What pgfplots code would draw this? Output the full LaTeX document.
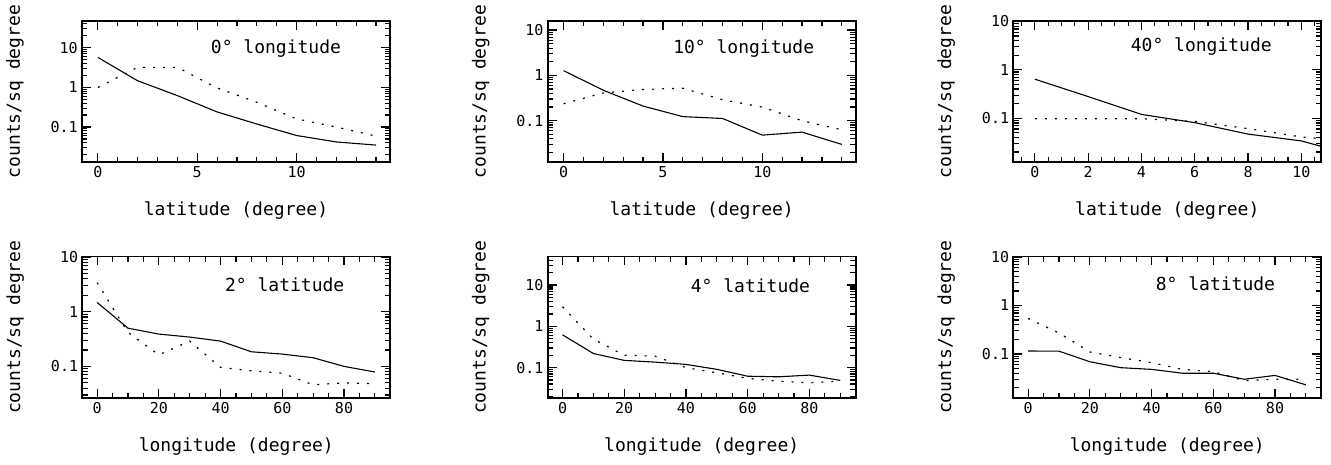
\documentclass[border=0pt]{standalone}
\usepackage{fontspec}
\usepackage{pgfplots}
\pgfplotsset{compat=1.18}
\setmainfont{DejaVu Sans Mono}
\newcommand\labfont{\fontsize{18}{20}\selectfont}
\newcommand\tickfont{\fontsize{15}{17}\selectfont}
\newcommand\xt[1]{\raisebox{-5pt}{\tickfont #1}}
\newcommand\yt[1]{{\tickfont #1}\hspace{4pt}}
\begin{document}
\begin{tikzpicture}
% ---- panel 1
\begin{semilogyaxis}[scale only axis, width=308pt, height=141.5pt, anchor=south west,
    at={(82pt,302.7pt)}, ymin=0.01288, ymax=47.9,
    xmin=-0.8, xmax=14.7, xtick={0,5,10}, xticklabels={\xt{0},\xt{5},\xt{10}},
    minor xtick={1,2,3,4,6,7,8,9,11,12,13,14},
    ytick={0.1,1,10}, yticklabels={\yt{0.1},\yt{1},\yt{10}},
    minor ytick={0.02,0.03,0.04,0.05,0.06,0.07,0.08,0.09,0.2,0.3,0.4,0.5,0.6,0.7,0.8,0.9,2,3,4,5,6,7,8,9,20,30,40},
    line width=1.8pt,
    every tick/.style={black, line width=1.2pt},
    major tick length=9pt, minor tick length=5.5pt,
    xlabel={latitude (degree)}, ylabel={counts/sq degree},
    xlabel style={font=\labfont, at={(axis description cs:0.5,-0.34)}, anchor=center},
    ylabel style={font=\labfont, at={(axis description cs:-0.2175,0.5)}, anchor=center}]
\addplot[black, line width=1.1pt, no marks] table {
0 5.7
2 1.47
4 0.62
6 0.24
8 0.119
10 0.061
12 0.042
14 0.035
};
\addplot[black, line width=1.2pt, no marks, dash pattern=on 2pt off 8pt] table {
0 1.0
2 3.2
4 3.2
6 0.97
8 0.42
10 0.16
12 0.10
14 0.059
};
\node[anchor=west, font=\labfont] at (rel axis cs:0.405,0.807) {0° longitude};
\end{semilogyaxis}
% ---- panel 2
\begin{semilogyaxis}[scale only axis, width=308pt, height=141.5pt, anchor=south west,
    at={(547.7pt,302.7pt)}, ymin=0.01208, ymax=16.03,
    xmin=-0.8, xmax=14.7, xtick={0,5,10}, xticklabels={\xt{0},\xt{5},\xt{10}},
    minor xtick={1,2,3,4,6,7,8,9,11,12,13,14},
    ytick={0.1,1,10}, yticklabels={\yt{0.1},\yt{1},\yt{10}},
    minor ytick={0.02,0.03,0.04,0.05,0.06,0.07,0.08,0.09,0.2,0.3,0.4,0.5,0.6,0.7,0.8,0.9,2,3,4,5,6,7,8,9,20,30,40},
    line width=1.8pt,
    every tick/.style={black, line width=1.2pt},
    major tick length=9pt, minor tick length=5.5pt,
    xlabel={latitude (degree)}, ylabel={counts/sq degree},
    xlabel style={font=\labfont, at={(axis description cs:0.5,-0.34)}, anchor=center},
    ylabel style={font=\labfont, at={(axis description cs:-0.2175,0.5)}, anchor=center}]
\addplot[black, line width=1.1pt, no marks] table {
0 1.27
2 0.47
4 0.21
6 0.123
8 0.112
10 0.048
12 0.056
14 0.03
};
\addplot[black, line width=1.2pt, no marks, dash pattern=on 2pt off 8pt] table {
0 0.237
2 0.41
4 0.49
6 0.52
8 0.29
10 0.20
12 0.10
14 0.063
};
\node[anchor=west, font=\labfont] at (rel axis cs:0.394,0.807) {10° longitude};
\end{semilogyaxis}
% ---- panel 3
\begin{semilogyaxis}[scale only axis, width=308pt, height=141.5pt, anchor=south west,
    at={(1013.3pt,302.7pt)}, ymin=0.0123, ymax=10.3,
    xmin=-0.81, xmax=10.75, xtick={0,2,4,6,8,10},
    xticklabels={\xt{0},\xt{2},\xt{4},\xt{6},\xt{8},\xt{10}},
    minor xtick={-0.5,0.5,1,1.5,2.5,3,3.5,4.5,5,5.5,6.5,7,7.5,8.5,9,9.5,10.5},
    ytick={0.1,1,10}, yticklabels={\yt{0.1},\yt{1},\yt{10}},
    minor ytick={0.02,0.03,0.04,0.05,0.06,0.07,0.08,0.09,0.2,0.3,0.4,0.5,0.6,0.7,0.8,0.9,2,3,4,5,6,7,8,9,20,30,40},
    line width=1.8pt,
    every tick/.style={black, line width=1.2pt},
    major tick length=9pt, minor tick length=5.5pt,
    xlabel={latitude (degree)}, ylabel={counts/sq degree},
    xlabel style={font=\labfont, at={(axis description cs:0.5,-0.34)}, anchor=center},
    ylabel style={font=\labfont, at={(axis description cs:-0.2175,0.5)}, anchor=center}]
\addplot[black, line width=1.1pt, no marks] table {
0 0.64
2 0.28
4 0.12
6 0.081
8 0.047
10 0.034
12 0.017
};
\addplot[black, line width=1.2pt, no marks, dash pattern=on 2pt off 8pt] table {
0 0.098
2 0.098
4 0.098
6 0.086
8 0.061
10 0.041
12 0.033
};
\node[anchor=west, font=\labfont] at (rel axis cs:0.368,0.816) {40° longitude};
\end{semilogyaxis}
% ---- panel 4
\begin{semilogyaxis}[scale only axis, width=308pt, height=141.5pt, anchor=south west,
    at={(82.3pt,67pt)}, ymin=0.02642, ymax=10.24,
    xmin=-4.8, xmax=95, xtick={0,20,40,60,80},
    xticklabels={\xt{0},\xt{20},\xt{40},\xt{60},\xt{80}},
    minor xtick={5,10,15,25,30,35,45,50,55,65,70,75,85,90},
    ytick={0.1,1,10}, yticklabels={\yt{0.1},\yt{1},\yt{10}},
    minor ytick={0.02,0.03,0.04,0.05,0.06,0.07,0.08,0.09,0.2,0.3,0.4,0.5,0.6,0.7,0.8,0.9,2,3,4,5,6,7,8,9,20,30,40},
    line width=1.8pt,
    every tick/.style={black, line width=1.2pt},
    major tick length=9pt, minor tick length=5.5pt,
    xlabel={longitude (degree)}, ylabel={counts/sq degree},
    xlabel style={font=\labfont, at={(axis description cs:0.5,-0.34)}, anchor=center},
    ylabel style={font=\labfont, at={(axis description cs:-0.2175,0.5)}, anchor=center}]
\addplot[black, line width=1.1pt, no marks] table {
0 1.48
10 0.50
20 0.39
30 0.344
40 0.29
50 0.185
60 0.168
70 0.144
80 0.10
90 0.079
};
\addplot[black, line width=1.2pt, no marks, dash pattern=on 2pt off 8pt] table {
0 3.4
10 0.42
20 0.163
30 0.29
40 0.096
50 0.083
60 0.075
70 0.046
80 0.05
90 0.048
};
\node[anchor=west, font=\labfont] at (rel axis cs:0.45,0.80) {2° latitude};
\end{semilogyaxis}
% ---- panel 5
\begin{semilogyaxis}[scale only axis, width=308pt, height=141.5pt, anchor=south west,
    at={(547.7pt,67pt)}, ymin=0.0184, ymax=49.3,
    xmin=-4.8, xmax=95, xtick={0,20,40,60,80},
    xticklabels={\xt{0},\xt{20},\xt{40},\xt{60},\xt{80}},
    minor xtick={5,10,15,25,30,35,45,50,55,65,70,75,85,90},
    ytick={0.1,1,10}, yticklabels={\yt{0.1},\yt{1},\yt{10}},
    minor ytick={0.02,0.03,0.04,0.05,0.06,0.07,0.08,0.09,0.2,0.3,0.4,0.5,0.6,0.7,0.8,0.9,2,3,4,5,6,7,8,9,20,30,40},
    line width=1.8pt,
    every tick/.style={black, line width=1.2pt},
    major tick length=9pt, minor tick length=5.5pt,
    xlabel={longitude (degree)}, ylabel={counts/sq degree},
    xlabel style={font=\labfont, at={(axis description cs:0.5,-0.34)}, anchor=center},
    ylabel style={font=\labfont, at={(axis description cs:-0.2175,0.5)}, anchor=center}]
\addplot[black, line width=1.1pt, no marks] table {
0 0.625
10 0.22
20 0.15
30 0.136
40 0.12
50 0.091
60 0.062
70 0.06
80 0.066
90 0.049
};
\addplot[black, line width=1.2pt, no marks, dash pattern=on 2pt off 8pt] table {
0 3.0
10 0.49
20 0.20
30 0.19
40 0.10
50 0.075
60 0.055
70 0.047
80 0.043
90 0.047
};
\node[anchor=west, font=\labfont] at (rel axis cs:0.451,0.79) {4° latitude};
\end{semilogyaxis}
% ---- panel 6
\begin{semilogyaxis}[scale only axis, width=308pt, height=141.5pt, anchor=south west,
    at={(1013.3pt,67pt)}, ymin=0.0123, ymax=10.3,
    xmin=-4.8, xmax=95, xtick={0,20,40,60,80},
    xticklabels={\xt{0},\xt{20},\xt{40},\xt{60},\xt{80}},
    minor xtick={5,10,15,25,30,35,45,50,55,65,70,75,85,90},
    ytick={0.1,1,10}, yticklabels={\yt{0.1},\yt{1},\yt{10}},
    minor ytick={0.02,0.03,0.04,0.05,0.06,0.07,0.08,0.09,0.2,0.3,0.4,0.5,0.6,0.7,0.8,0.9,2,3,4,5,6,7,8,9,20,30,40},
    line width=1.8pt,
    every tick/.style={black, line width=1.2pt},
    major tick length=9pt, minor tick length=5.5pt,
    xlabel={longitude (degree)}, ylabel={counts/sq degree},
    xlabel style={font=\labfont, at={(axis description cs:0.5,-0.34)}, anchor=center},
    ylabel style={font=\labfont, at={(axis description cs:-0.2175,0.5)}, anchor=center}]
\addplot[black, line width=1.1pt, no marks] table {
0 0.115
10 0.114
20 0.069
30 0.052
40 0.048
50 0.04
60 0.04
70 0.030
80 0.036
90 0.023
};
\addplot[black, line width=1.2pt, no marks, dash pattern=on 2pt off 8pt] table {
0 0.54
10 0.27
20 0.11
30 0.084
40 0.066
50 0.048
60 0.043
70 0.028
80 0.030
90 0.030
};
\node[anchor=west, font=\labfont] at (rel axis cs:0.449,0.81) {8° latitude};
\end{semilogyaxis}
\path[use as bounding box] (0pt,0pt) rectangle (1331pt,465pt);
\end{tikzpicture}
\end{document}
